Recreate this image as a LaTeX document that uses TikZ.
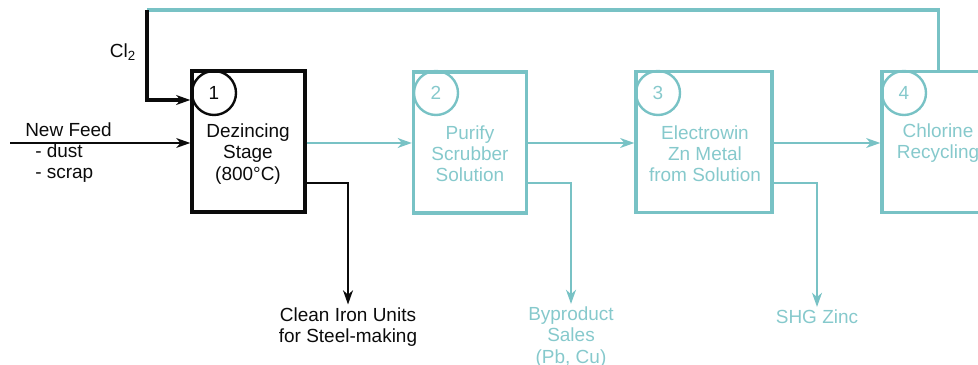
\documentclass[tikz,border=0pt]{standalone}
\usepackage{fontspec}
\setmainfont{Liberation Sans}
\usetikzlibrary{arrows.meta,positioning}
\definecolor{cteal}{HTML}{78C2C5}
\definecolor{ctealtext}{HTML}{86C9CC}
\definecolor{cink}{HTML}{0B0B0B}

\begin{document}
\begin{tikzpicture}[x=0.025cm, y=-0.025cm, font=\fontsize{13.5}{15}\selectfont,
  stagebox/.style={draw, minimum width=2.825cm, minimum height=3.525cm, line width=2.4pt, inner sep=0pt},
  stageno/.style={draw, circle, minimum size=1.1cm, inner sep=0pt, line width=1.7pt},
  flowtip/.style={-{Stealth[length=10pt, width=7pt, inset=3pt]}},
  label/.style={align=center, inner sep=2pt}]
%% ------------------------------------------------------------------ frame
\useasboundingbox (0,0) rectangle (978,365);
\clip (0,0) rectangle (978,365);
%% ------------------------------------------------------------------ stages
\node[stagebox, cink] (dez) at (248.5,141.5) {};
\node[stagebox, cteal] (pur) at (470,142.5) {};
\node[stagebox, cteal, minimum width=3.4cm] (elw) at (704,142) {};
\node[stagebox, cteal] (chl) at (938.5,142) {};
\node[stageno, cink] (n1) at (214,93) {1};
\node[stageno, cteal, text=ctealtext] (n2) at (436,93) {2};
\node[stageno, cteal, text=ctealtext] (n3) at (658,93) {3};
\node[stageno, cteal, text=ctealtext] (n4) at (904,93) {4};
\node[label, cink] (dezt) at (248,154) {Dezincing\\Stage\\(800°C)};
\node[label, ctealtext] (purt) at (470,154) {Purify\\Scrubber\\Solution};
\node[label, ctealtext] (elwt) at (705,154) {Electrowin\\Zn Metal\\from Solution};
\node[label, ctealtext] (chlt) at (938,143) {Chlorine\\Recycling};
%% ------------------------------------------------------------------ inputs
\node[align=left, anchor=west, inner sep=0pt, cink] (feed) at (25,153) {New Feed\\\hspace*{0.25cm}- dust\\\hspace*{0.25cm}- scrap};
\coordinate (feedin) at (10,143);
\draw[flowtip, cink, line width=1.1pt] (feedin) -- (dez.west |- feedin);
\coordinate (cltop) at (147,10);
\node[cink] (cl) at (123,52) {Cl\textsubscript{2}};
\draw[cteal, line width=2.2pt] (cltop) -- (cltop -| chl.north) -- (chl.north);
\draw[flowtip, cink, line width=2.4pt] (cltop) -- (147,100) -- (dez.west |- 0,100);
%% ------------------------------------------------------------------ products
\node[label, cink] (iron) at (348,327) {Clean Iron Units\\for Steel-making};
\node[label, ctealtext] (byp) at (571,337) {Byproduct\\Sales\\(Pb, Cu)};
\node[label, ctealtext] (shg) at (817,317) {SHG Zinc};
\draw[flowtip, cteal, line width=1.6pt] (dez.east |- 0,143) -- (pur.west |- 0,143);
\draw[flowtip, cteal, line width=1.6pt] (pur.east |- 0,143) -- (elw.west |- 0,143);
\draw[flowtip, cteal, line width=1.6pt] (elw.east |- 0,143) -- (chl.west |- 0,143);
\draw[flowtip, cink, line width=1.6pt] (dez.east |- 0,183) -- (iron.north |- 0,183) -- (iron.north);
\draw[flowtip, cteal, line width=1.6pt] (pur.east |- 0,183) -- (byp.north |- 0,183) -- (byp.north);
\draw[flowtip, cteal, line width=1.6pt] (elw.east |- 0,183) -- (shg.north |- 0,183) -- (shg.north);
\end{tikzpicture}
\end{document}
